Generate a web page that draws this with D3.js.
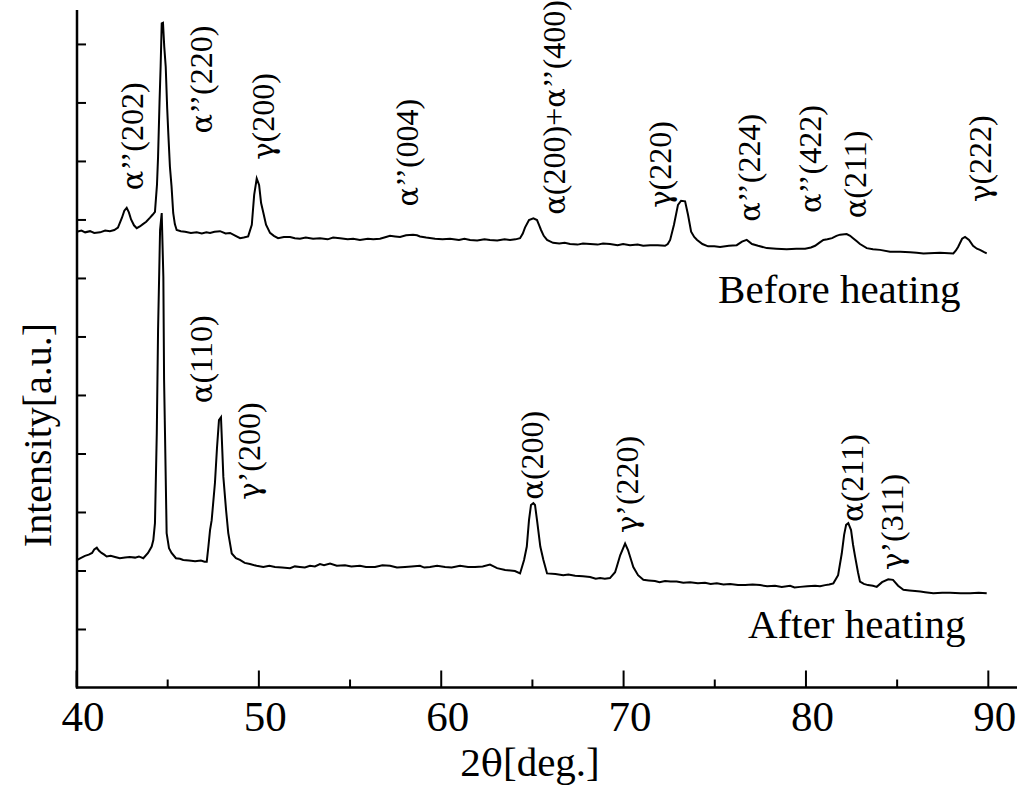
<!DOCTYPE html>
<html>
<head>
<meta charset="utf-8">
<script src="https://cdn.jsdelivr.net/npm/d3@7"></script>
<style>
html,body{margin:0;padding:0;background:#fff;}
svg{display:block;}
text{fill:#000;}
</style>
</head>
<body>
<svg id="chart" width="1024" height="789"></svg>
<script>
// ---------- data ----------
const xMajorTicks = [40, 50, 60, 70, 80, 90];
const xMinorTicks = [45, 55, 65, 75, 85];
const yTicks = [1, 2, 3, 4, 5, 6, 7, 8, 9, 10, 11];
const xTitle = "2θ[deg.]";
const yTitle = "Intensity[a.u.]";

// [2θ, intensity]
const beforeHeating = [[40.05,7.79],[40.3,7.81],[40.5,7.78],[40.77,7.80],[41.0,7.77],[41.32,7.78],[41.6,7.81],[41.86,7.80],[42.1,7.82],[42.30,7.86],[42.52,8.03],[42.65,8.15],[42.78,8.20],[42.9,8.12],[43.02,8.00],[43.18,7.90],[43.33,7.85],[43.5,7.88],[43.67,7.92],[43.85,7.96],[44.06,8.03],[44.2,8.08],[44.33,8.13],[44.44,8.59],[44.50,9.07],[44.58,10.0],[44.64,10.61],[44.70,11.35],[44.77,11.36],[44.84,10.95],[44.92,10.61],[45.0,9.9],[45.06,9.48],[45.15,8.9],[45.24,8.56],[45.33,8.11],[45.42,7.92],[45.52,7.82],[45.75,7.80],[45.98,7.79],[46.3,7.77],[46.62,7.78],[46.9,7.76],[47.15,7.78],[47.35,7.77],[47.6,7.79],[47.9,7.80],[48.2,7.76],[48.45,7.77],[48.75,7.72],[49.0,7.68],[49.2,7.69],[49.44,7.71],[49.64,7.91],[49.77,8.42],[49.91,8.70],[50.04,8.59],[50.15,8.28],[50.27,8.12],[50.42,7.91],[50.64,7.77],[50.85,7.72],[51.08,7.68],[51.4,7.70],[51.74,7.70],[52.0,7.68],[52.28,7.67],[52.6,7.69],[53.0,7.67],[53.38,7.68],[53.8,7.66],[54.1,7.69],[54.48,7.68],[54.9,7.66],[55.2,7.67],[55.57,7.65],[56.0,7.67],[56.3,7.66],[56.67,7.67],[57.0,7.70],[57.22,7.72],[57.5,7.71],[57.77,7.70],[58.1,7.73],[58.48,7.74],[58.7,7.73],[58.86,7.71],[59.2,7.69],[59.69,7.67],[60.1,7.66],[60.51,7.67],[61.0,7.65],[61.3,7.67],[61.61,7.65],[62.0,7.64],[62.4,7.66],[62.70,7.65],[63.1,7.64],[63.5,7.66],[63.80,7.65],[64.1,7.66],[64.35,7.68],[64.5,7.76],[64.62,7.86],[64.84,7.99],[65.08,8.02],[65.28,7.99],[65.4,7.9],[65.50,7.82],[65.65,7.72],[65.83,7.65],[66.16,7.60],[66.5,7.59],[66.8,7.60],[67.09,7.58],[67.5,7.57],[67.8,7.59],[68.19,7.58],[68.6,7.57],[68.9,7.59],[69.28,7.58],[69.7,7.56],[70.0,7.58],[70.38,7.56],[70.8,7.57],[71.1,7.55],[71.48,7.56],[71.9,7.56],[72.30,7.55],[72.45,7.58],[72.58,7.65],[72.79,7.91],[73.01,8.25],[73.18,8.32],[73.40,8.31],[73.56,8.08],[73.73,7.79],[73.9,7.70],[74.06,7.65],[74.35,7.58],[74.66,7.54],[75.0,7.54],[75.32,7.53],[75.8,7.55],[76.23,7.56],[76.52,7.62],[76.78,7.65],[77.07,7.58],[77.4,7.55],[77.88,7.51],[78.4,7.50],[78.97,7.49],[79.5,7.50],[79.98,7.50],[80.3,7.52],[80.53,7.55],[80.75,7.60],[80.98,7.65],[81.2,7.66],[81.46,7.68],[81.7,7.72],[81.90,7.74],[82.26,7.75],[82.45,7.72],[82.61,7.68],[82.8,7.63],[82.99,7.58],[83.36,7.51],[83.7,7.49],[84.09,7.48],[84.64,7.45],[85.2,7.45],[85.74,7.44],[86.1,7.43],[86.47,7.42],[87.38,7.43],[88.11,7.42],[88.25,7.47],[88.37,7.53],[88.59,7.67],[88.75,7.70],[88.97,7.65],[89.19,7.55],[89.4,7.50],[89.57,7.48],[89.8,7.44],[89.94,7.42]];

const afterHeating = [[40.07,2.18],[40.25,2.21],[40.49,2.25],[40.7,2.27],[40.88,2.30],[41.0,2.36],[41.14,2.39],[41.25,2.34],[41.4,2.30],[41.55,2.27],[41.68,2.24],[41.9,2.25],[42.14,2.23],[42.4,2.21],[42.69,2.22],[42.95,2.23],[43.24,2.22],[43.45,2.24],[43.69,2.21],[43.95,2.30],[44.15,2.41],[44.24,2.52],[44.33,2.81],[44.43,4.35],[44.50,6.11],[44.61,7.82],[44.70,8.11],[44.79,7.02],[44.83,5.26],[44.88,4.35],[44.97,2.64],[45.10,2.38],[45.24,2.30],[45.48,2.21],[45.7,2.20],[45.88,2.18],[46.2,2.17],[46.53,2.16],[46.85,2.17],[47.05,2.15],[47.17,2.15],[47.26,2.41],[47.35,2.69],[47.44,2.86],[47.62,3.50],[47.73,4.09],[47.84,4.57],[47.95,4.62],[48.08,3.60],[48.23,3.03],[48.35,2.64],[48.54,2.29],[48.77,2.21],[48.99,2.18],[49.25,2.13],[49.54,2.11],[49.9,2.08],[50.27,2.06],[50.6,2.08],[50.91,2.06],[51.3,2.05],[51.74,2.04],[52.0,2.07],[52.28,2.06],[52.55,2.05],[52.83,2.08],[53.1,2.07],[53.38,2.11],[53.6,2.09],[53.93,2.12],[54.3,2.08],[54.75,2.09],[55.1,2.07],[55.57,2.08],[55.9,2.06],[56.4,2.06],[56.8,2.09],[57.22,2.08],[57.6,2.05],[58.04,2.06],[58.4,2.07],[58.86,2.08],[59.1,2.05],[59.41,2.06],[59.8,2.08],[60.24,2.06],[60.6,2.05],[61.06,2.08],[61.5,2.06],[61.88,2.06],[62.3,2.07],[62.70,2.10],[62.9,2.07],[63.09,2.04],[63.53,2.01],[64.07,1.99],[64.35,1.95],[64.57,2.18],[64.72,2.41],[64.84,2.86],[64.95,3.12],[65.08,3.15],[65.17,3.12],[65.28,2.86],[65.46,2.41],[65.63,2.18],[65.83,1.95],[66.29,1.94],[66.72,1.92],[67.0,1.93],[67.37,1.91],[67.8,1.90],[68.19,1.89],[68.5,1.86],[68.74,1.87],[69.0,1.86],[69.28,1.87],[69.56,1.97],[69.65,2.06],[69.84,2.26],[70.11,2.46],[70.27,2.35],[70.44,2.18],[70.56,2.06],[70.82,1.92],[71.11,1.84],[71.4,1.83],[71.75,1.82],[72.0,1.80],[72.30,1.82],[72.6,1.81],[72.94,1.81],[73.3,1.79],[73.67,1.80],[74.1,1.78],[74.49,1.79],[74.8,1.77],[75.14,1.78],[75.5,1.76],[75.87,1.77],[76.3,1.75],[76.69,1.75],[77.1,1.76],[77.51,1.75],[77.9,1.73],[78.33,1.74],[78.7,1.72],[79.16,1.74],[79.4,1.71],[79.71,1.72],[80.1,1.73],[80.53,1.74],[80.8,1.73],[81.08,1.75],[81.3,1.76],[81.53,1.78],[81.79,1.92],[81.99,2.29],[82.12,2.61],[82.23,2.78],[82.35,2.81],[82.50,2.69],[82.61,2.44],[82.72,2.24],[82.88,1.97],[82.99,1.81],[83.2,1.77],[83.43,1.75],[83.7,1.74],[83.91,1.72],[84.20,1.80],[84.54,1.85],[84.80,1.84],[85.08,1.74],[85.37,1.67],[85.7,1.66],[86.01,1.65],[86.3,1.64],[86.56,1.63],[87.01,1.61],[87.5,1.62],[87.93,1.62],[88.5,1.61],[89.03,1.61],[89.5,1.62],[89.94,1.61]];

// peak annotations: text, 2θ and intensity at the start (bottom) of the rotated label
const peakLabelsText = ["α’’(202)","α’’(220)","γ(200)","α’’(004)","α(200)+α’’(400)","γ(220)","α’’(224)","α’’(422)","α(211)","γ(222)",
                        "α(110)","γ’(200)","α(200)","γ’(220)","α(211)","γ’(311)"];
const peakLabelsTheta = [43.69,47.46,50.86,58.76,66.80,72.63,77.51,80.86,83.32,90.18,
                         47.46,50.07,65.61,70.82,83.16,85.35];
const peakLabelsValue = [8.50,9.47,9.02,8.22,8.08,8.20,7.96,8.11,8.02,8.30,
                         4.86,3.21,3.21,2.64,2.83,2.01];

const seriesNames = ["Before heating","After heating"];
const seriesLabelTheta = [75.21,76.85];
const seriesLabelValue = [6.57,0.85];

// ---------- drawing ----------
const FONT = "'Liberation Serif', 'Times New Roman', serif";
const GREEK_FONT = "'DejaVu Serif', 'Liberation Serif', serif";
const svg = d3.select("#chart");
svg.append("rect").attr("width",1024).attr("height",789).attr("fill","#fff");

const x = d3.scaleLinear().domain([40, 91.6]).range([76, 1017]);
const y = d3.scaleLinear().domain([0, 11.58]).range([687.5, 10]);

// write a string into a text node, keeping Greek letters in their own tspans
function richText(sel, str, greekScale) {
  const parts = str.match(/[\u0370-\u03FF]+|[^\u0370-\u03FF]+/g) || [];
  parts.forEach(p => {
    const isGreek = /[\u0370-\u03FF]/.test(p);
    const t = sel.append("tspan").text(p)
      .attr("font-family", isGreek ? GREEK_FONT : FONT);
    if (isGreek && greekScale) t.attr("font-size", greekScale);
  });
}

const line = d3.line().x(d => x(d[0])).y(d => y(d[1]));

[beforeHeating, afterHeating].forEach(s => {
  svg.append("path").datum(s).attr("d", line)
    .attr("fill","none").attr("stroke","#000").attr("stroke-width",2)
    .attr("stroke-linejoin","miter");
});

// x axis
const gx = svg.append("g").attr("transform",`translate(0,${y(0)})`);
gx.call(d3.axisBottom(x).tickValues(xMajorTicks).tickSize(-17).tickFormat(""));
gx.append("g").call(d3.axisBottom(x).tickValues(xMinorTicks).tickSize(-8).tickFormat(""));
gx.selectAll("path.domain").attr("stroke","none");
gx.selectAll(".tick line").attr("stroke","#000").attr("stroke-width",2);
gx.append("line").attr("x1",76).attr("x2",1017).attr("y1",0).attr("y2",0)
  .attr("stroke","#000").attr("stroke-width",2.5);

svg.selectAll("text.xtl").data(xMajorTicks).enter().append("text")
  .attr("class","xtl")
  .attr("x", d => x(d) + 7).attr("y", 730.5)
  .attr("text-anchor","middle").attr("font-size",43).attr("font-family",FONT)
  .text(d => d);

// y axis
const gy = svg.append("g").attr("transform",`translate(${x(40)+1},0)`);
gy.call(d3.axisLeft(y).tickValues(yTicks).tickSize(-9).tickFormat(""));
gy.selectAll("path.domain").attr("stroke","none");
gy.selectAll(".tick line").attr("stroke","#000").attr("stroke-width",2);
gy.append("line").attr("x1",0).attr("x2",0).attr("y1",y(11.58)).attr("y2",y(0)+1)
  .attr("stroke","#000").attr("stroke-width",2.5);

// axis titles
const xt = svg.append("text").attr("x",530).attr("y",776).attr("text-anchor","middle")
  .attr("font-size",41).attr("font-family",FONT);
richText(xt, xTitle, 37);
svg.append("text").attr("transform","translate(51,435) rotate(-90)")
  .attr("text-anchor","middle").attr("font-size",40).attr("font-family",FONT).text(yTitle);

// peak labels
svg.selectAll("text.peak").data(peakLabelsText).enter().append("text")
  .attr("class","peak")
  .attr("transform",(d,i) => `translate(${x(peakLabelsTheta[i])},${y(peakLabelsValue[i])}) rotate(-90)`)
  .attr("text-anchor","start").attr("font-size",32).attr("font-family",FONT)
  .each(function(d){ richText(d3.select(this), d, 29); });

// series labels
svg.selectAll("text.series").data(seriesNames).enter().append("text")
  .attr("class","series")
  .attr("x",(d,i) => x(seriesLabelTheta[i])).attr("y",(d,i) => y(seriesLabelValue[i]))
  .attr("font-size",41).attr("font-family",FONT)
  .text(d => d);
</script>
</body>
</html>
